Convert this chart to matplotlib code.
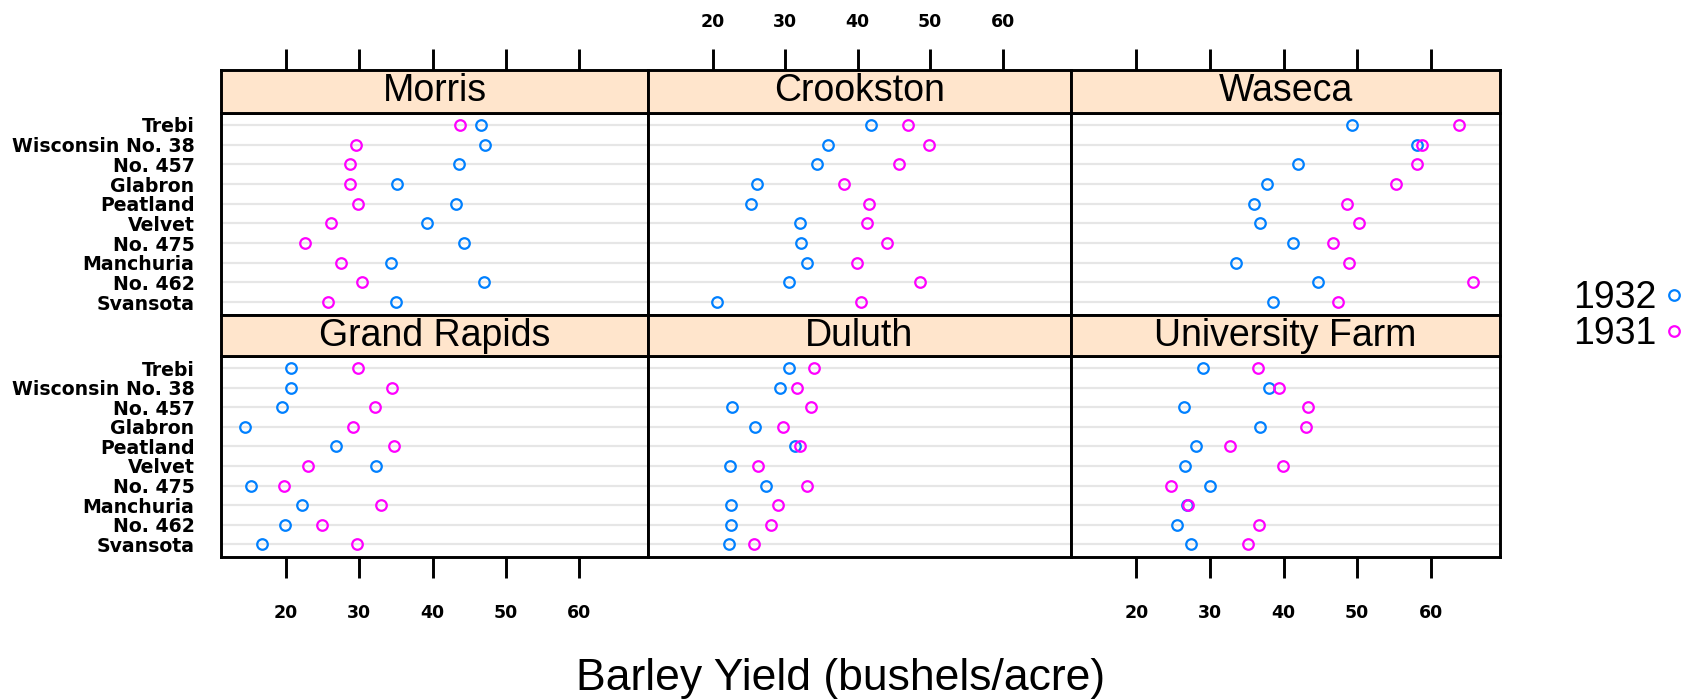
"""
Barley yield dotplot (lattice style): six sites, ten varieties, 1931 vs 1932.
"""

import matplotlib
matplotlib.use("Agg")
import matplotlib.pyplot as plt
from matplotlib.lines import Line2D

# varieties listed bottom to top
varieties = ["Svansota", "No. 462", "Manchuria", "No. 475", "Velvet",
             "Peatland", "Glabron", "No. 457", "Wisconsin No. 38", "Trebi"]

# top row first, left to right
sites = ["Morris", "Crookston", "Waseca",
         "Grand Rapids", "Duluth", "University Farm"]

years = ["1932", "1931"]
year_colors = ["#0080ff", "#ff00ff"]

morris_1932 = [35.03, 47.00, 34.37, 44.23, 39.23, 43.20, 35.13, 43.53, 47.17, 46.63]
morris_1931 = [25.77, 30.37, 27.43, 22.60, 26.13, 29.87, 28.77, 28.70, 29.47, 43.77]
crookston_1932 = [20.63, 30.53, 32.97, 32.13, 32.07, 25.23, 26.17, 34.33, 35.90, 41.83]
crookston_1931 = [40.47, 48.57, 39.93, 44.10, 41.33, 41.60, 38.13, 45.67, 49.87, 46.93]
waseca_1932 = [38.50, 44.70, 33.47, 41.27, 36.80, 36.03, 37.73, 42.00, 58.17, 49.23]
waseca_1931 = [47.33, 65.77, 48.87, 46.77, 50.23, 48.57, 55.20, 58.10, 58.80, 63.83]
grand_rapids_1932 = [16.63, 19.90, 22.13, 15.23, 32.23, 26.77, 14.43, 19.47, 20.67, 20.63]
grand_rapids_1931 = [29.67, 24.93, 32.97, 19.70, 23.03, 34.70, 29.13, 32.17, 34.47, 29.77]
duluth_1932 = [22.23, 22.50, 22.57, 27.37, 22.47, 31.37, 25.87, 22.70, 29.33, 30.60]
duluth_1931 = [25.70, 28.10, 28.97, 33.07, 26.30, 32.00, 29.67, 33.60, 31.60, 33.93]
univ_farm_1932 = [27.43, 25.57, 26.90, 30.00, 26.57, 28.07, 36.80, 26.43, 38.00, 29.07]
univ_farm_1931 = [35.13, 36.60, 27.00, 24.67, 39.90, 32.77, 43.07, 43.27, 39.30, 36.57]

site_values = {
    "Morris": (morris_1932, morris_1931),
    "Crookston": (crookston_1932, crookston_1931),
    "Waseca": (waseca_1932, waseca_1931),
    "Grand Rapids": (grand_rapids_1932, grand_rapids_1931),
    "Duluth": (duluth_1932, duluth_1931),
    "University Farm": (univ_farm_1932, univ_farm_1931),
}

x_ticks = [20, 30, 40, 50, 60]
x_label = "Barley Yield (bushels/acre)"

W, H = 1683, 700
STRIP_BG = "#ffe5cc"
GRID_COL = "#e6e6e6"
XLIM = (11.1, 69.4)
YLIM = (0.35, 10.62)

col_edges = [221, 648, 1071, 1500]
# (strip_top, strip_bottom, panel_bottom) in pixels from top
row_edges = [(70, 112.7, 315), (315, 356, 557)]


def fig_rect(x0, x1, ytop, ybot):
    return [x0 / W, 1 - ybot / H, (x1 - x0) / W, (ybot - ytop) / H]


def main():
    fig = plt.figure(figsize=(W / 100, H / 100), dpi=100)
    fig.patch.set_facecolor("white")

    ypos = list(range(1, len(varieties) + 1))

    for i, site in enumerate(sites):
        row, col = divmod(i, 3)
        x0, x1 = col_edges[col], col_edges[col + 1]
        s_top, s_bot, p_bot = row_edges[row]

        ax = fig.add_axes(fig_rect(x0, x1, s_bot, p_bot))
        sx = fig.add_axes(fig_rect(x0, x1, s_top, s_bot))

        for a in (ax, sx):
            a.set_xlim(*XLIM)
            for sp in a.spines.values():
                sp.set_linewidth(2.1)

        # panel
        ax.set_ylim(*YLIM)
        for y in ypos:
            ax.axhline(y, color=GRID_COL, lw=1.6, zorder=1)
        for vals, c in zip(site_values[site], year_colors):
            ax.plot(vals, ypos, linestyle="none", marker="o", ms=7.6,
                    mfc="none", mec=c, mew=1.6, zorder=3)

        ax.set_yticks(ypos)
        if col == 0:
            ax.set_yticklabels(varieties, fontfamily="DejaVu Sans",
                               fontweight="bold", fontsize=13.6)
        else:
            ax.set_yticklabels([])
        ax.tick_params(axis="y", length=0, pad=19)

        ax.set_xticks(x_ticks)
        if row == 1 and col != 1:
            ax.tick_params(axis="x", bottom=True, length=15, width=2.1,
                           direction="out", pad=19)
            ax.set_xticklabels([str(t) for t in x_ticks],
                               fontfamily="DejaVu Sans", fontweight="bold",
                               fontsize=12.5)
        else:
            ax.tick_params(axis="x", bottom=False, labelbottom=False)

        # strip
        sx.set_facecolor(STRIP_BG)
        sx.set_yticks([])
        sx.text(0.5, 0.5, site, transform=sx.transAxes, ha="center",
                va="center", fontfamily="Liberation Sans", fontsize=27)
        sx.set_xticks(x_ticks)
        sx.tick_params(axis="x", bottom=False, labelbottom=False)
        if row == 0:
            sx.tick_params(axis="x", top=True, length=15, width=2.1,
                           direction="out", pad=13,
                           labeltop=(col == 1))
            if col == 1:
                sx.set_xticklabels([str(t) for t in x_ticks],
                                   fontfamily="DejaVu Sans", fontweight="bold",
                                   fontsize=12.5)

    handles = [Line2D([], [], linestyle="none", marker="o", ms=7.6,
                      mfc="none", mec=c, mew=1.6) for c in year_colors]
    fig.legend(handles, years, loc="center right",
               bbox_to_anchor=(1683 / W, 1 - 316 / H), frameon=False,
               markerfirst=False, handlelength=0.5, handletextpad=0.2,
               labelspacing=0.0, borderpad=0, borderaxespad=0,
               prop={"family": "Liberation Sans", "size": 27})

    fig.text(841 / W, 1 - 690 / H, x_label, ha="center", va="baseline",
             fontfamily="Liberation Sans", fontsize=32)

    fig.savefig("out.png", dpi=100)


if __name__ == "__main__":
    main()
